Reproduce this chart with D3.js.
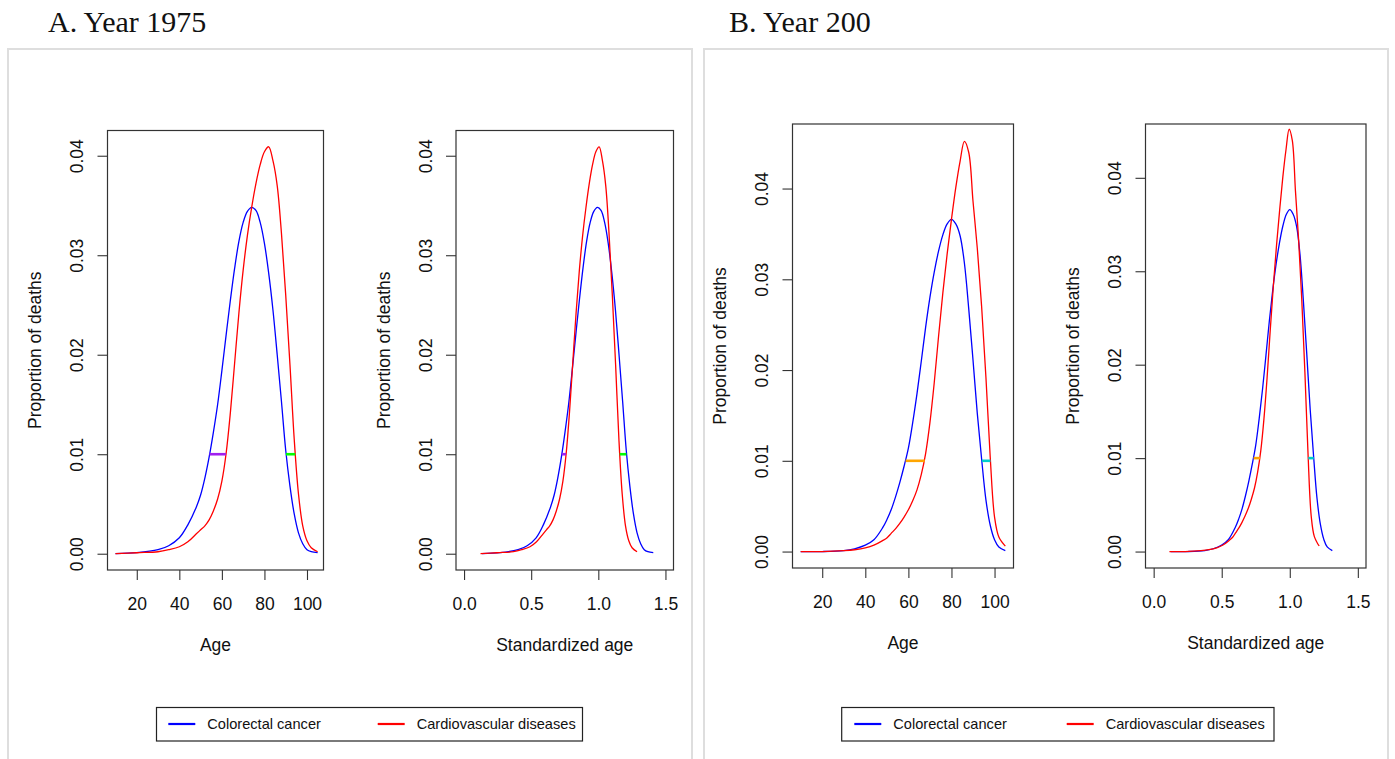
<!DOCTYPE html>
<html lang="en">
<head>
<meta charset="UTF-8">
<title>Proportion of deaths by age, 1975 and 2000</title>
<style>
  body { margin: 0; background: #fff; }
  svg { display: block; font-family: "Liberation Sans", Arial, Helvetica, sans-serif; }
  .frame { fill: none; stroke: #dedede; stroke-width: 2; }
  .title { font-family: "Liberation Serif", "DejaVu Serif", serif; font-size: 30px; fill: #111; }
  .box { fill: none; stroke: #333; stroke-width: 1.2; }
  .axis line { stroke: #333; stroke-width: 1.1; }
  .axis text { fill: #111; font-size: 17.5px; font-family: "Liberation Sans", Arial, sans-serif; }
  .label { fill: #111; font-size: 17.5px; }
  .curve { fill: none; stroke-width: 1.3; }
  .gap { stroke-width: 2.6; }
  .legend rect { fill: #fff; stroke: #222; stroke-width: 1.2; }
  .legend line { stroke-width: 2.2; }
  .legend text { fill: #111; font-size: 14.6px; }
</style>
</head>
<body>
<div id="chart"></div>
<script src="https://d3js.org/d3.v7.min.js"></script>
<script>
// age grid shared by all four density curves
var ages = [10, 20, 30, 35, 40, 44, 48, 50, 52, 54, 56, 58, 60, 62, 64, 66, 68, 70, 72, 74,
            76, 78, 80, 82, 84, 86, 88, 90, 92, 94, 96, 98, 100, 102, 105];

// proportion of deaths at each age
var colorectal1975 = [0.0000, 0.0001, 0.0004, 0.0008, 0.0016, 0.0029, 0.0047, 0.0059, 0.0076, 0.0097,
                      0.0122, 0.0150, 0.0184, 0.0220, 0.0255, 0.0287, 0.0314, 0.0333, 0.0344, 0.0348,
                      0.0345, 0.0333, 0.0312, 0.0282, 0.0245, 0.0200, 0.0153, 0.0104, 0.0068, 0.0040,
                      0.0021, 0.0010, 0.0004, 0.0002, 0.0001];
var cardio1975     = [0.0000, 0.0001, 0.0002, 0.0004, 0.0007, 0.0012, 0.0020, 0.0024, 0.0028, 0.0034,
                      0.0043, 0.0055, 0.0073, 0.0101, 0.0142, 0.0192, 0.0242, 0.0285, 0.0320, 0.0348,
                      0.0372, 0.0391, 0.0404, 0.0409, 0.0395, 0.0370, 0.0322, 0.0260, 0.0190, 0.0115,
                      0.0060, 0.0028, 0.0013, 0.0006, 0.0002];
var colorectal2000 = [0.0000, 0.0000, 0.0001, 0.0003, 0.0007, 0.0013, 0.0026, 0.0035, 0.0046, 0.0060,
                      0.0076, 0.0094, 0.0114, 0.0142, 0.0174, 0.0210, 0.0247, 0.0280, 0.0308, 0.0331,
                      0.0349, 0.0361, 0.0366, 0.0361, 0.0348, 0.0318, 0.0268, 0.0211, 0.0152, 0.0102,
                      0.0057, 0.0029, 0.0013, 0.0005, 0.0001];
var cardio2000     = [0.0000, 0.0000, 0.0001, 0.0002, 0.0004, 0.0007, 0.0012, 0.0015, 0.0020, 0.0025,
                      0.0031, 0.0038, 0.0046, 0.0056, 0.0068, 0.0085, 0.0108, 0.0142, 0.0186, 0.0237,
                      0.0285, 0.0328, 0.0366, 0.0401, 0.0430, 0.0452, 0.0440, 0.0386, 0.0334, 0.0270,
                      0.0192, 0.0104, 0.0038, 0.0016, 0.0006];

// modal age of death [colorectal, cardiovascular], used to standardize age
var modalAge1975 = [74.5, 81.5];
var modalAge2000 = [80.0, 86.4];

// ages where each curve crosses the 0.01 level [left, right]
var cross1975 = [[54.2, 90.1], [61.9, 94.5]];
var cross2000 = [[58.7, 94.1], [67.6, 98.1]];
var crossLevel = 0.01;

var yTicks = [0, 0.01, 0.02, 0.03, 0.04];
var ageTicks = [20, 40, 60, 80, 100];
var stdTicks = [0, 0.5, 1.0, 1.5];
var legendLabels = ['Colorectal cancer', 'Cardiovascular diseases'];
var titles = ['A. Year 1975', 'B. Year 200'];

var width = 1395, height = 759;
var colors = ['#0000ff', '#ff0000'];

var svg = d3.select('#chart')
  .append('svg')
  .attr('width', width)
  .attr('height', height);

// R style 4% padding of the axis limits
function pad(lim) {
  var d = (lim[1] - lim[0]) * 0.04;
  return [lim[0] - d, lim[1] + d];
}

function drawPlot(p) {
  var x = d3.scaleLinear().domain(pad(p.xlim)).range([p.left, p.right]);
  var y = d3.scaleLinear().domain(pad(p.ylim)).range([p.bottom, p.top]);

  var line = d3.line()
    .x(function(d) { return x(d[0]); })
    .y(function(d) { return y(d[1]); })
    .curve(d3.curveCatmullRom.alpha(0.5));

  p.series.forEach(function(vals, k) {
    var pts = ages.map(function(a, i) { return [a / p.scaleBy[k], vals[i]]; });
    svg.append('path')
      .attr('class', 'curve')
      .attr('d', line(pts))
      .attr('stroke', colors[k]);
  });

  // gaps between the curves at the 0.01 level
  [0, 1].forEach(function(side) {
    svg.append('line')
      .attr('class', 'gap')
      .attr('x1', x(p.cross[0][side] / p.scaleBy[0]))
      .attr('x2', x(p.cross[1][side] / p.scaleBy[1]))
      .attr('y1', y(crossLevel))
      .attr('y2', y(crossLevel))
      .attr('stroke', p.gapColors[side]);
  });

  svg.append('rect')
    .attr('class', 'box')
    .attr('x', p.left)
    .attr('y', p.top)
    .attr('width', p.right - p.left)
    .attr('height', p.bottom - p.top);

  var xAxis = svg.append('g')
    .attr('class', 'axis')
    .attr('transform', 'translate(0,' + p.bottom + ')')
    .call(d3.axisBottom(x).tickValues(p.xTicks).tickFormat(p.xFormat).tickSize(10).tickSizeOuter(0));
  xAxis.select('.domain').remove();
  xAxis.attr('font-size', null).attr('font-family', null);
  xAxis.selectAll('text').attr('y', 40).attr('dy', null);

  var yAxis = svg.append('g')
    .attr('class', 'axis')
    .attr('transform', 'translate(' + p.left + ',0)')
    .call(d3.axisLeft(y).tickValues(yTicks).tickFormat(d3.format('.2f')).tickSize(10).tickSizeOuter(0));
  yAxis.select('.domain').remove();
  yAxis.attr('font-size', null).attr('font-family', null);
  yAxis.selectAll('text')
    .attr('x', null)
    .attr('dy', null)
    .attr('text-anchor', 'middle')
    .attr('transform', 'translate(-24.5,0) rotate(-90)');

  svg.append('text')
    .attr('class', 'label')
    .attr('text-anchor', 'middle')
    .attr('x', (p.left + p.right) / 2)
    .attr('y', p.bottom + 81)
    .text(p.xLabel);

  svg.append('text')
    .attr('class', 'label')
    .attr('text-anchor', 'middle')
    .attr('transform', 'translate(' + (p.left - 66.5) + ',' + ((p.top + p.bottom) / 2) + ') rotate(-90)')
    .text('Proportion of deaths');
}

function drawLegend(l) {
  var g = svg.append('g').attr('class', 'legend');
  g.append('rect')
    .attr('x', l.x).attr('y', l.y)
    .attr('width', l.w).attr('height', 33.5);
  legendLabels.forEach(function(label, i) {
    g.append('line')
      .attr('x1', l.items[i]).attr('x2', l.items[i] + 27)
      .attr('y1', l.y + 16.5).attr('y2', l.y + 16.5)
      .attr('stroke', colors[i]);
    g.append('text')
      .attr('x', l.items[i] + 39)
      .attr('y', l.y + 21.8)
      .text(label);
  });
}

// outer panel frames and titles
[[8, 692], [704, 1388]].forEach(function(f, i) {
  svg.append('rect')
    .attr('class', 'frame')
    .attr('x', f[0]).attr('y', 49)
    .attr('width', f[1] - f[0]).attr('height', 740);
  svg.append('text')
    .attr('class', 'title')
    .attr('x', i === 0 ? 48 : 729)
    .attr('y', 31.5)
    .text(titles[i]);
});

var ageFmt = d3.format('d'), stdFmt = d3.format('.1f');

drawPlot({ left: 107.5, right: 323.5, top: 130.5, bottom: 570,
  xlim: [10, 104], ylim: [0, 0.0409], xTicks: ageTicks, xFormat: ageFmt, xLabel: 'Age',
  series: [colorectal1975, cardio1975], scaleBy: [1, 1],
  cross: cross1975, gapColors: ['#a020f0', '#00ff00'] });

drawPlot({ left: 456, right: 673.5, top: 130.5, bottom: 570,
  xlim: [0, 1.5], ylim: [0, 0.0409], xTicks: stdTicks, xFormat: stdFmt, xLabel: 'Standardized age',
  series: [colorectal1975, cardio1975], scaleBy: modalAge1975,
  cross: cross1975, gapColors: ['#a020f0', '#00ff00'] });

drawPlot({ left: 792.5, right: 1013.5, top: 124, bottom: 568,
  xlim: [10, 105], ylim: [0, 0.0453], xTicks: ageTicks, xFormat: ageFmt, xLabel: 'Age',
  series: [colorectal2000, cardio2000], scaleBy: [1, 1],
  cross: cross2000, gapColors: ['#ffa500', '#00cdcd'] });

drawPlot({ left: 1145.5, right: 1366, top: 124, bottom: 568,
  xlim: [0, 1.5], ylim: [0, 0.044], xTicks: stdTicks, xFormat: stdFmt, xLabel: 'Standardized age',
  series: [colorectal2000, cardio2000], scaleBy: modalAge2000,
  cross: cross2000, gapColors: ['#ffa500', '#00cdcd'] });

drawLegend({ x: 156.5, y: 707.5, w: 426, items: [168.3, 377.7] });
drawLegend({ x: 841.7, y: 707.5, w: 432.3, items: [854.3, 1066.7] });
</script>
</body>
</html>
